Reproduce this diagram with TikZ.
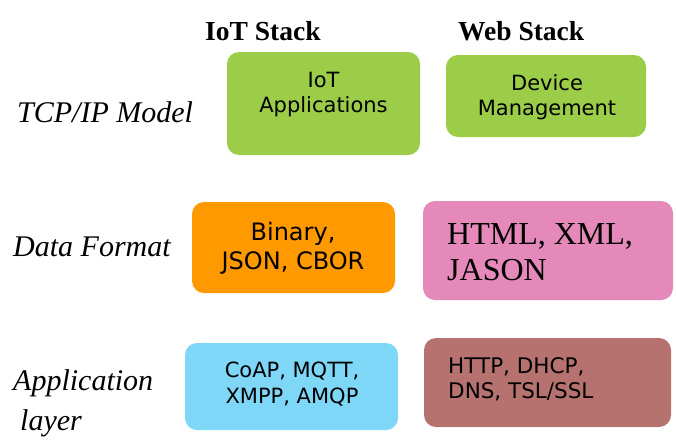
\documentclass[tikz,border=0pt]{standalone}
\usepackage{fontspec}
\setmainfont{Liberation Serif}
\newfontfamily\boxfont{DejaVu Sans}
\usepackage{tikz}

\definecolor{appgreen}{RGB}{155,205,72}
\definecolor{fmtorange}{RGB}{255,153,0}
\definecolor{fmtpink}{RGB}{228,137,185}
\definecolor{protoblue}{RGB}{127,215,247}
\definecolor{protobrown}{RGB}{181,114,110}

\tikzset{
  stackbox/.style={rounded corners=12pt,inner sep=0pt,draw=none},
  boxtxt/.style={inner sep=0pt,align=center,font=\boxfont\fontsize{21}{25}\selectfont},
  rowlabel/.style={anchor=base west,inner sep=0pt,font=\fontsize{30}{34}\selectfont\itshape},
  stackhead/.style={anchor=base west,inner sep=0pt,font=\fontsize{27.5}{32}\selectfont\bfseries}
}

\begin{document}
\begin{tikzpicture}[x=1pt,y=1pt,yscale=-1,xscale=1]
\useasboundingbox (0,0) rectangle (676,439);

% Rounded Rect
\node [stackbox,fill=appgreen,minimum width=193pt,minimum height=103pt] (iotapp) at (323.5,103.5) {};
% Rounded Rect
\node [stackbox,fill=appgreen,minimum width=200pt,minimum height=82pt] (devmgmt) at (546,96) {};
% Rounded Rect
\node [stackbox,fill=fmtorange,minimum width=203pt,minimum height=91pt] (binfmt) at (293.5,247.5) {};
% Rounded Rect
\node [stackbox,fill=fmtpink,minimum width=250pt,minimum height=99pt] (webfmt) at (548,250.5) {};
% Rounded Rect
\node [stackbox,fill=protoblue,minimum width=213pt,minimum height=87pt] (iotproto) at (291.5,386.5) {};
% Rounded Rect
\node [stackbox,fill=protobrown,minimum width=247pt,minimum height=89pt] (webproto) at (547.5,382.5) {};

% Text Node
\node [boxtxt] (iotapptxt) at (323.5,95) {IoT\\Applications};
% Text Node
\node [boxtxt] (devmgmttxt) at (547,97) {Device\\Management};
% Text Node
\node [boxtxt,font=\boxfont\fontsize{24}{29}\selectfont] (binfmttxt) at (293,248) {Binary,\\JSON, CBOR};
% Text Node
\node [boxtxt,align=left,anchor=west,font=\fontsize{32}{36}\selectfont] (webfmttxt) at (447,252.6) {HTML, XML,\\JASON};
% Text Node
\node [boxtxt,font=\boxfont\fontsize{21}{26}\selectfont] (iotprototxt) at (292,384) {CoAP, MQTT,\\XMPP, AMQP};
% Text Node
\node [boxtxt,align=left,anchor=west,font=\boxfont\fontsize{21.5}{25}\selectfont] (webprototxt) at (448,379.4) {HTTP, DHCP,\\DNS, TSL/SSL};

% Text Node
\node [stackhead] (iothead) at (205,40) {IoT Stack};
% Text Node
\node [stackhead] (webhead) at (458,40) {Web Stack};

% Text Node
\node [rowlabel] (tcplbl) at (17,122) {TCP/IP Model};
% Text Node
\node [rowlabel] (fmtlbl) at (13,256) {Data Format};
% Text Node
\node [rowlabel] (applbl) at (13,390) {Application};
% Text Node
\node [rowlabel] (laylbl) at (20,430) {layer};

\end{tikzpicture}
\end{document}
